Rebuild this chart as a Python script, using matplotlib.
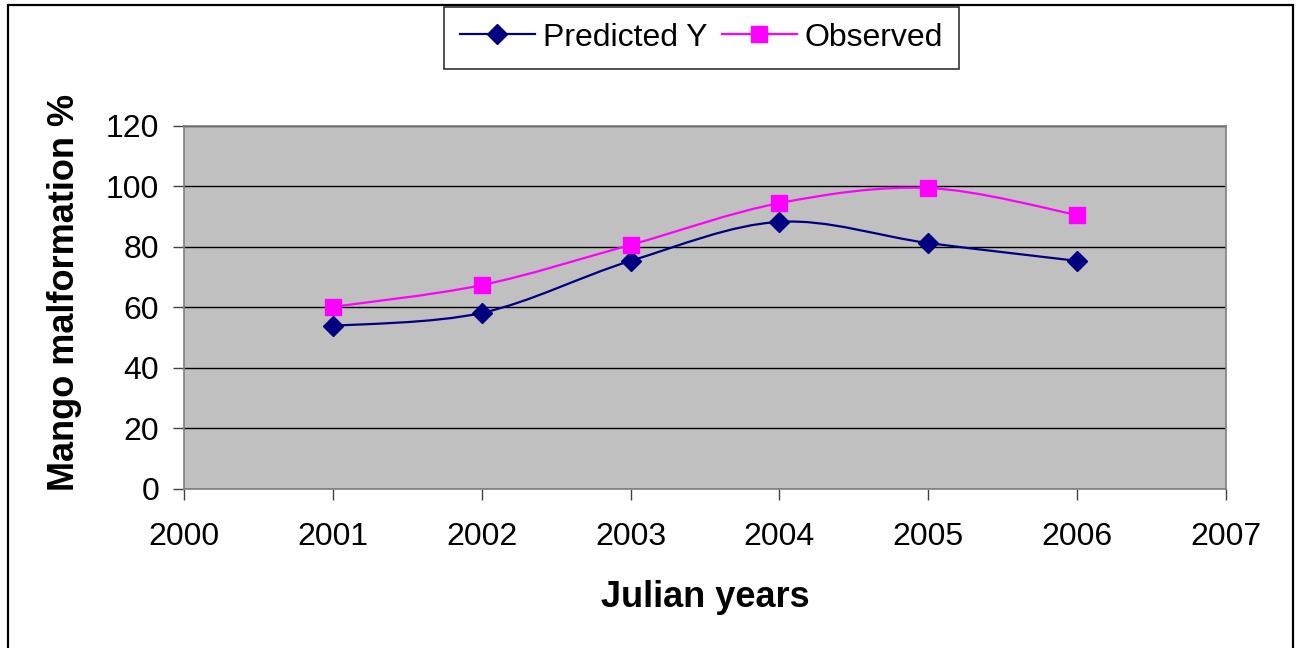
import numpy as np
import matplotlib
matplotlib.use('Agg')
import matplotlib.pyplot as plt
from matplotlib.path import Path
from matplotlib.patches import PathPatch, Rectangle
from matplotlib.lines import Line2D

plt.rcParams['font.family'] = ['Liberation Sans', 'DejaVu Sans']

years = [2001, 2002, 2003, 2004, 2005, 2006]
predicted = [53.9, 58.2, 75.4, 88.3, 81.3, 75.4]
observed = [60.2, 67.4, 80.7, 94.5, 99.5, 90.6]

navy = '#000080'
magenta = '#FF00FF'


def smooth_path(x, y):
    # excel style smoothed line: cubic bezier through the points
    x = np.asarray(x, float)
    y = np.asarray(y, float)
    n = len(x)
    verts = [(x[0], y[0])]
    codes = [Path.MOVETO]
    for i in range(n - 1):
        x0, y0 = (x[i - 1], y[i - 1]) if i > 0 else (x[i], y[i])
        x3, y3 = (x[i + 2], y[i + 2]) if i + 2 < n else (x[i + 1], y[i + 1])
        c1 = (x[i] + (x[i + 1] - x0) / 6, y[i] + (y[i + 1] - y0) / 6)
        c2 = (x[i + 1] - (x3 - x[i]) / 6, y[i + 1] - (y3 - y[i]) / 6)
        verts += [c1, c2, (x[i + 1], y[i + 1])]
        codes += [Path.CURVE4] * 3
    return Path(verts, codes)


fig = plt.figure(figsize=(12.98, 6.48), dpi=100)
ax = fig.add_axes([0.1418, 0.2454, 0.8027, 0.5602])
ax.set_facecolor('#C0C0C0')

ax.add_patch(PathPatch(smooth_path(years, predicted), fill=False,
                       edgecolor=navy, lw=1.6, zorder=3))
ax.add_patch(PathPatch(smooth_path(years, observed), fill=False,
                       edgecolor=magenta, lw=1.6, zorder=3))
ax.plot(years, predicted, ls='none', marker='D', ms=10, color=navy, zorder=4)
ax.plot(years, observed, ls='none', marker='s', ms=11.5, color=magenta,
        zorder=4)

ax.set_xlim(2000, 2007)
ax.set_ylim(0, 120)
ax.set_xticks(range(2000, 2008))
ax.set_yticks(range(0, 121, 20))
ax.yaxis.grid(True, color='black', lw=1)
ax.set_axisbelow(True)
for s in ax.spines.values():
    s.set_color('#808080')
    s.set_linewidth(1.2)
ax.tick_params(axis='both', labelsize=23, color='#404040', width=1,
               length=8)
ax.tick_params(axis='y', pad=10)
ax.tick_params(axis='x', pad=16)

ax.set_xlabel('Julian years', fontsize=26, fontweight='bold', labelpad=20)
ax.set_ylabel('Mango malformation %', fontsize=26, fontweight='bold')
ax.yaxis.set_label_coords(-0.098, 0.541)

handles = [Line2D([], [], color=navy, lw=1.6, marker='D', ms=10),
           Line2D([], [], color=magenta, lw=1.6, marker='s', ms=11.5)]
leg = fig.legend(handles, ['Predicted Y', 'Observed'], loc='center',
                 bbox_to_anchor=(0.5405, 0.942), ncol=2, fontsize=23,
                 frameon=True, fancybox=False, edgecolor='black',
                 handlelength=2.35, handletextpad=0.25, columnspacing=0.45,
                 borderpad=0.5, borderaxespad=0)
leg.get_frame().set_linewidth(1.2)

# outer border of the chart
fig.patches.append(Rectangle((8 / 1298, -0.05), 1285 / 1298, 1.05 - 5 / 648,
                             transform=fig.transFigure, fill=False,
                             edgecolor='black', lw=1.6))

plt.savefig('out.png', dpi=100)
